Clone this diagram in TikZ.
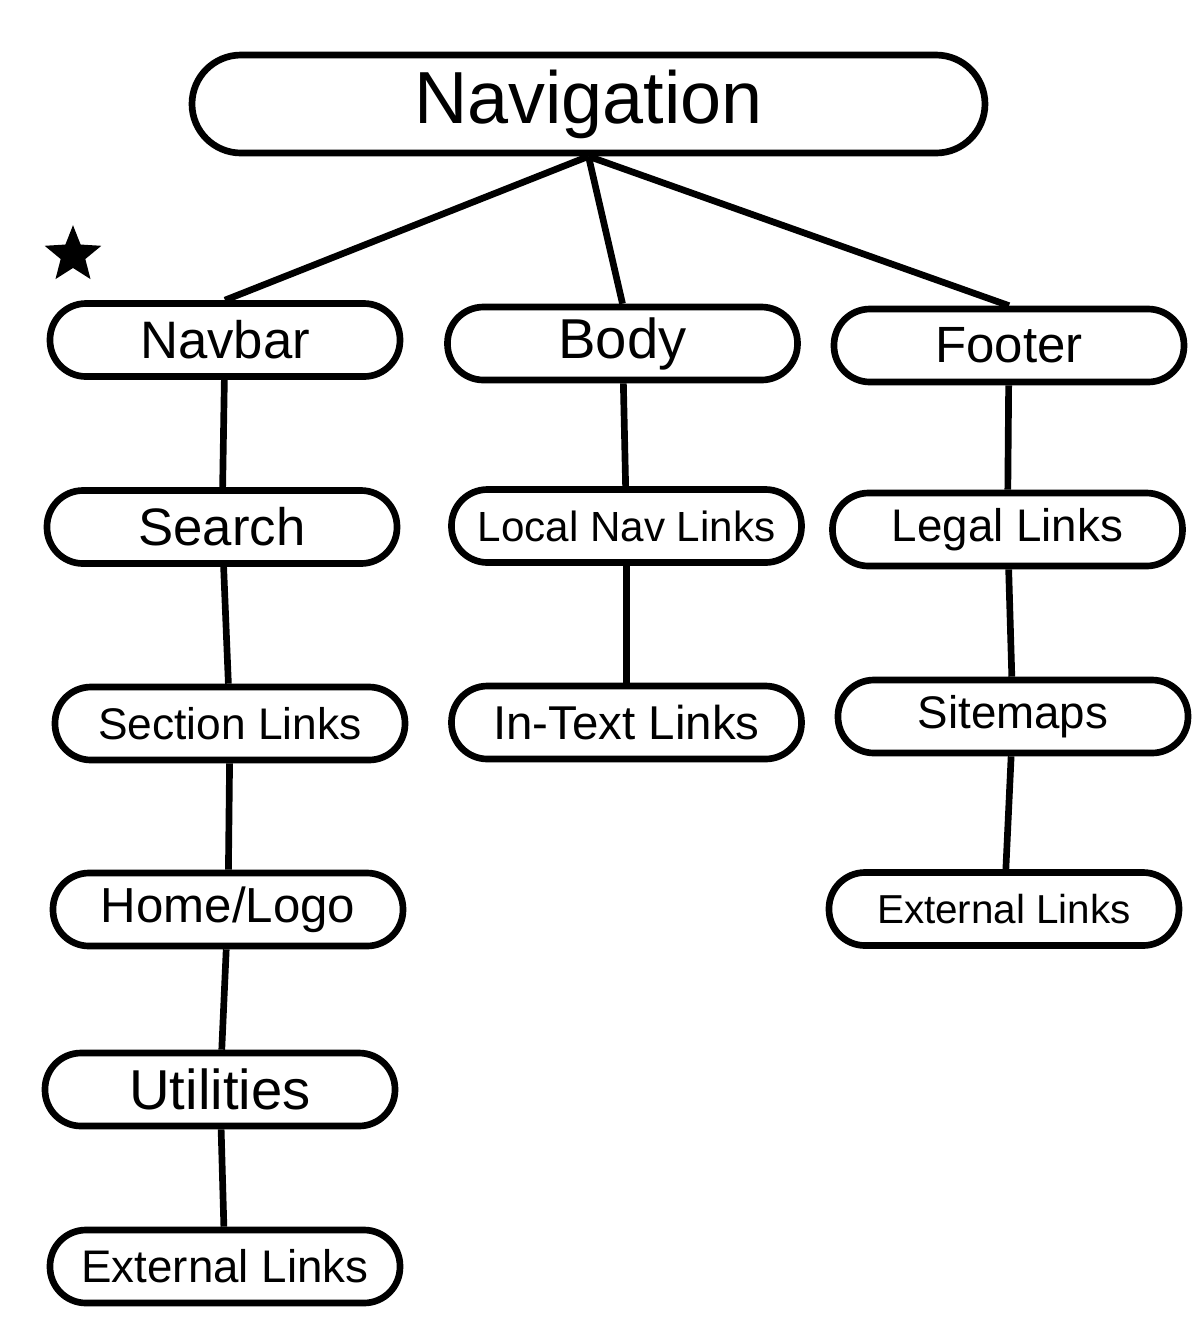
\documentclass[tikz,border=0pt]{standalone}
\usepackage{fontspec}
\setmainfont{Liberation Sans}
\usetikzlibrary{shapes.geometric}
\begin{document}
\begin{tikzpicture}[x=1cm,y=1cm,
  pill/.style={draw, line width=1.9pt, rounded corners=0.36cm, minimum width=3.5cm, minimum height=0.73cm, inner sep=0pt},
  link/.style={line width=1.9pt}]
\useasboundingbox (0,0) rectangle (12,-13.44);
\fill[white] (0,0) rectangle (12,-13.44);
\node[pill, minimum width=7.93cm, minimum height=0.98cm, rounded corners=0.49cm, font=\fontsize{21}{24}\selectfont] (nav) at (5.885,-1.04) {Navigation};
\node[pill, font=\fontsize{15}{18}\selectfont] (navbar) at (2.25,-3.40) {Navbar};
\node[pill, font=\fontsize{16}{19}\selectfont] (body) at (6.225,-3.435) {Body};
\node[pill, font=\fontsize{14.5}{17}\selectfont] (footer) at (10.09,-3.455) {Footer};
\node[pill, font=\fontsize{15}{18}\selectfont] (search) at (2.22,-5.27) {Search};
\node[pill, font=\fontsize{12}{14}\selectfont] (local) at (6.265,-5.26) {Local Nav Links};
\node[pill, font=\fontsize{13}{15}\selectfont] (legal) at (10.075,-5.295) {Legal Links};
\node[pill, font=\fontsize{12.6}{15}\selectfont] (section) at (2.30,-7.235) {Section Links};
\node[pill, font=\fontsize{13.5}{16}\selectfont] (intext) at (6.265,-7.225) {In-Text Links};
\node[pill, font=\fontsize{13}{15}\selectfont] (sitemaps) at (10.13,-7.165) {Sitemaps};
\node[pill, font=\fontsize{14}{16}\selectfont] (home) at (2.28,-9.095) {Home/Logo};
\node[pill, font=\fontsize{11.5}{14}\selectfont] (fext) at (10.04,-9.09) {External Links};
\node[pill, font=\fontsize{16}{19}\selectfont] (util) at (2.20,-10.895) {Utilities};
\node[pill, font=\fontsize{13}{15}\selectfont] (next) at (2.25,-12.665) {External Links};
\node[star, star points=5, star point ratio=2.3, fill=black, draw=black, line width=1pt, minimum size=0.5cm, inner sep=0pt] (star) at (0.73,-2.55) {};
\draw[link] (nav.south) -- (navbar.north);
\draw[link] (nav.south) -- (body.north);
\draw[link] (nav.south) -- (footer.north);
\draw[link] (navbar) -- (search);
\draw[link] (search) -- (section);
\draw[link] (section) -- (home);
\draw[link] (home) -- (util);
\draw[link] (util) -- (next);
\draw[link] (body) -- (local);
\draw[link] (local) -- (intext);
\draw[link] (footer) -- (legal);
\draw[link] (legal) -- (sitemaps);
\draw[link] (sitemaps) -- (fext);
\end{tikzpicture}
\end{document}
